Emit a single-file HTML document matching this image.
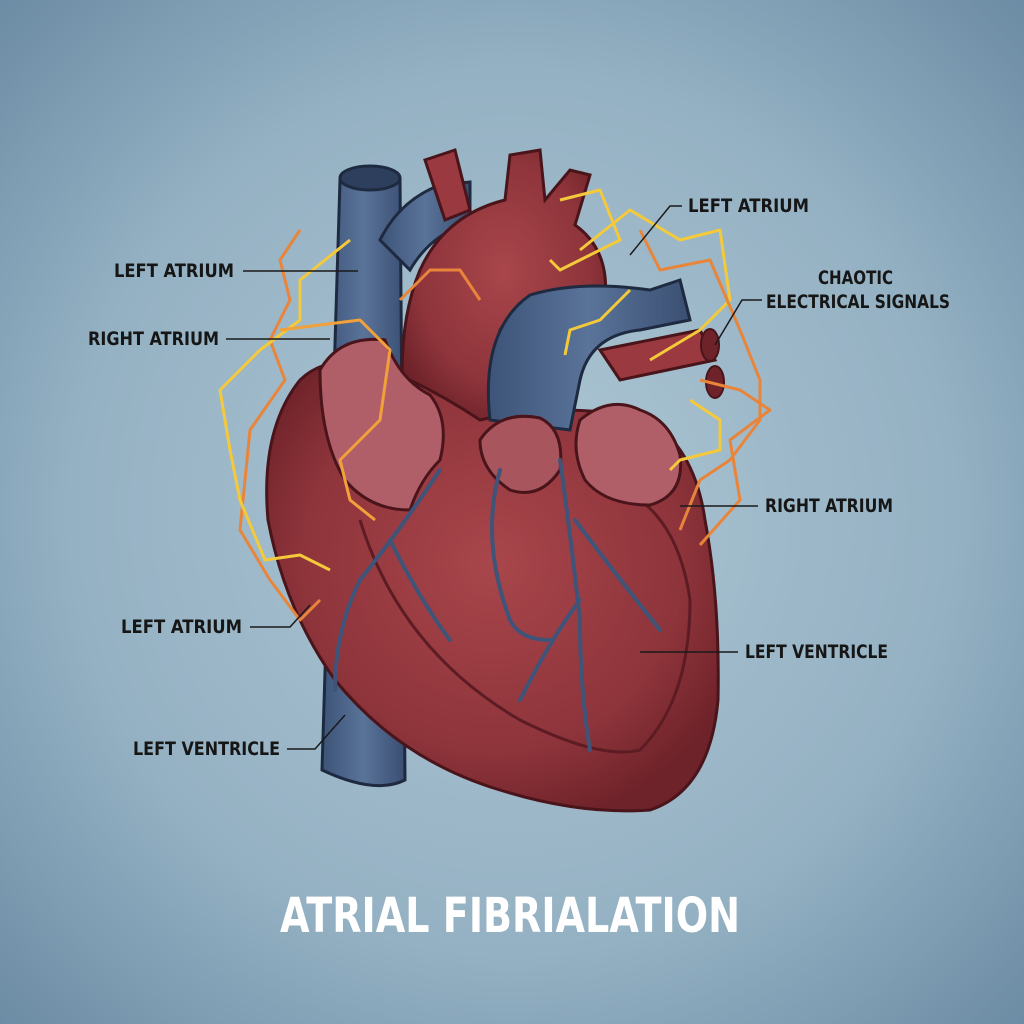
<!DOCTYPE html>
<html><head><meta charset="utf-8"><style>
html,body{margin:0;padding:0;width:1024px;height:1024px;overflow:hidden}
svg{display:block}
.l{font-family:"DejaVu Sans Condensed","Liberation Sans",sans-serif;font-weight:bold;font-size:19px;fill:#161616}
.ln{stroke:#1a1a1a;stroke-width:1.5;fill:none}
</style></head><body>
<svg width="1024" height="1024" viewBox="0 0 1024 1024">
<defs>
<radialGradient id="bg" cx="50%" cy="50%" r="72%">
<stop offset="0" stop-color="#adc6d3"/><stop offset="0.6" stop-color="#94b1c3"/><stop offset="1" stop-color="#6a8aa3"/>
</radialGradient>
<radialGradient id="rd" cx="50%" cy="45%" r="60%">
<stop offset="0" stop-color="#a8464b"/><stop offset="0.7" stop-color="#8e343b"/><stop offset="1" stop-color="#6e2229"/>
</radialGradient>
<linearGradient id="bl" x1="0" x2="1"><stop offset="0" stop-color="#3d5478"/><stop offset="0.5" stop-color="#5a7399"/><stop offset="1" stop-color="#3a4f72"/></linearGradient>
</defs>
<rect width="1024" height="1024" fill="url(#bg)"/>
<!-- vena cava -->
<path d="M340 180 Q370 160 400 178 L405 780 Q375 795 322 770 Z" fill="url(#bl)" stroke="#1e2a40" stroke-width="3"/>
<ellipse cx="370" cy="178" rx="30" ry="12" fill="#2e3f5e" stroke="#1e2a40" stroke-width="3"/>
<path d="M380 240 Q400 200 440 185 L470 182 L470 222 Q430 235 410 270 Z" fill="url(#bl)" stroke="#1e2a40" stroke-width="3"/>
<!-- aorta -->
<path d="M405 420 Q395 330 420 270 Q445 215 505 200 L510 155 L540 150 L545 200 L570 170 L590 175 L575 225 Q610 250 605 300 L560 330 Q520 300 500 330 L490 420 Z" fill="url(#rd)" stroke="#4a141b" stroke-width="3"/>
<path d="M425 160 L455 150 L470 210 L445 220 Z" fill="#9a3a40" stroke="#4a141b" stroke-width="3"/>
<!-- main heart body -->
<path d="M300 380 Q260 430 268 520 Q285 610 335 680 Q400 760 500 790 Q580 815 650 810 Q710 790 718 700 Q720 600 705 520 Q695 450 650 420 Q560 400 480 420 Q420 380 360 360 Q320 360 300 380 Z" fill="url(#rd)" stroke="#4a141b" stroke-width="3"/>
<path d="M360 520 Q400 650 520 720 Q600 760 640 750 Q690 700 690 600 Q680 530 640 500" fill="none" stroke="#5d1c23" stroke-width="3"/>
<!-- pulmonary artery -->
<path d="M490 420 Q480 330 530 295 Q580 280 650 290 L680 280 L690 320 L640 330 Q590 335 580 380 L570 430 Z" fill="url(#bl)" stroke="#1e2a40" stroke-width="3"/>
<!-- right side vessels -->
<path d="M600 350 L700 330 L715 360 L620 380 Z" fill="#9a3a40" stroke="#4a141b" stroke-width="3"/>
<ellipse cx="710" cy="345" rx="9" ry="16" fill="#6e2229" stroke="#4a141b" stroke-width="2"/>
<ellipse cx="715" cy="382" rx="9" ry="16" fill="#6e2229" stroke="#4a141b" stroke-width="2"/>
<!-- atria -->
<path d="M320 370 Q340 335 385 340 Q400 380 430 395 Q450 420 440 460 Q420 480 410 510 Q370 510 345 480 Q320 440 320 370 Z" fill="#b05f69" stroke="#4a141b" stroke-width="3"/>
<path d="M580 420 Q610 395 640 410 Q670 420 680 455 Q685 495 650 505 Q605 505 585 480 Q570 450 580 420 Z" fill="#b05f69" stroke="#4a141b" stroke-width="3"/>
<path d="M480 440 Q500 410 540 418 Q565 430 560 470 Q540 500 510 490 Q480 470 480 440 Z" fill="#a9555d" stroke="#4a141b" stroke-width="3"/>
<!-- coronary vessels -->
<g stroke="#3f5478" stroke-width="4" fill="none" stroke-linecap="round">
<path d="M440 470 Q400 530 360 580 Q335 630 335 690"/>
<path d="M390 540 Q420 600 450 640"/>
<path d="M560 460 Q570 530 580 620 Q580 690 590 750"/>
<path d="M575 520 Q620 580 660 630"/>
<path d="M500 470 Q480 540 510 620 Q520 640 550 640"/>
<path d="M580 600 Q550 640 520 700"/>
</g>
<!-- electrical signals -->
<g fill="none" stroke-width="3" stroke-linejoin="round">
<path d="M300 230 L280 260 L290 300 L270 340 L285 380 L250 430 L245 480 L240 530 L270 580 L300 620 L320 600" stroke="#e8853b"/>
<path d="M350 240 L300 280 L300 320 L260 350 L220 390 L230 450 L240 500 L265 560 L300 555 L330 570" stroke="#f4c93a"/>
<path d="M280 330 L360 320 L390 350 L380 420 L340 460 L350 500 L375 520" stroke="#f1a03a"/>
<path d="M400 300 L430 270 L460 270 L480 300" stroke="#e8853b"/>
<path d="M560 200 L600 190 L620 240 L560 270 L550 260" stroke="#f4c93a"/>
<path d="M580 250 L630 210 L680 240 L720 230 L730 300 L700 330 L650 360" stroke="#f4c93a"/>
<path d="M640 230 L660 270 L710 260 L740 330 L760 380 L760 420 L730 460 L700 480 L680 530" stroke="#e8853b"/>
<path d="M630 290 L600 320 L570 330 L565 355" stroke="#f4c93a"/>
<path d="M690 400 L720 420 L720 450 L680 460 L670 470" stroke="#f4c93a"/>
<path d="M700 380 L740 390 L770 410 L730 440 L740 500 L700 545" stroke="#e8853b"/>
</g>
<!-- labels -->
<text class="l" x="114" y="277" textLength="120" lengthAdjust="spacingAndGlyphs">LEFT ATRIUM</text><path class="ln" d="M243 271 L358 271"/>
<text class="l" x="88" y="345" textLength="131" lengthAdjust="spacingAndGlyphs">RIGHT ATRIUM</text><path class="ln" d="M226 339 L330 339"/>
<text class="l" x="121" y="633" textLength="121" lengthAdjust="spacingAndGlyphs">LEFT ATRIUM</text><path class="ln" d="M250 627 L290 627 L310 605"/>
<text class="l" x="133" y="755" textLength="147" lengthAdjust="spacingAndGlyphs">LEFT VENTRICLE</text><path class="ln" d="M287 749 L315 749 L345 715"/>
<text class="l" x="688" y="212" textLength="121" lengthAdjust="spacingAndGlyphs">LEFT ATRIUM</text><path class="ln" d="M682 206 L670 206 L630 255"/>
<text class="l" x="818" y="284" textLength="75" lengthAdjust="spacingAndGlyphs">CHAOTIC</text>
<text class="l" x="766" y="308" textLength="184" lengthAdjust="spacingAndGlyphs">ELECTRICAL SIGNALS</text><path class="ln" d="M762 300 L742 300 L715 345"/>
<text class="l" x="765" y="512" textLength="128" lengthAdjust="spacingAndGlyphs">RIGHT ATRIUM</text><path class="ln" d="M758 506 L680 506"/>
<text class="l" x="745" y="658" textLength="143" lengthAdjust="spacingAndGlyphs">LEFT VENTRICLE</text><path class="ln" d="M738 652 L640 652"/>
<text x="280" y="932" textLength="460" lengthAdjust="spacingAndGlyphs" font-family="DejaVu Sans Condensed,Liberation Sans,sans-serif" font-weight="bold" font-size="48" fill="#ffffff">ATRIAL FIBRIALATION</text>
</svg>
</body></html>
